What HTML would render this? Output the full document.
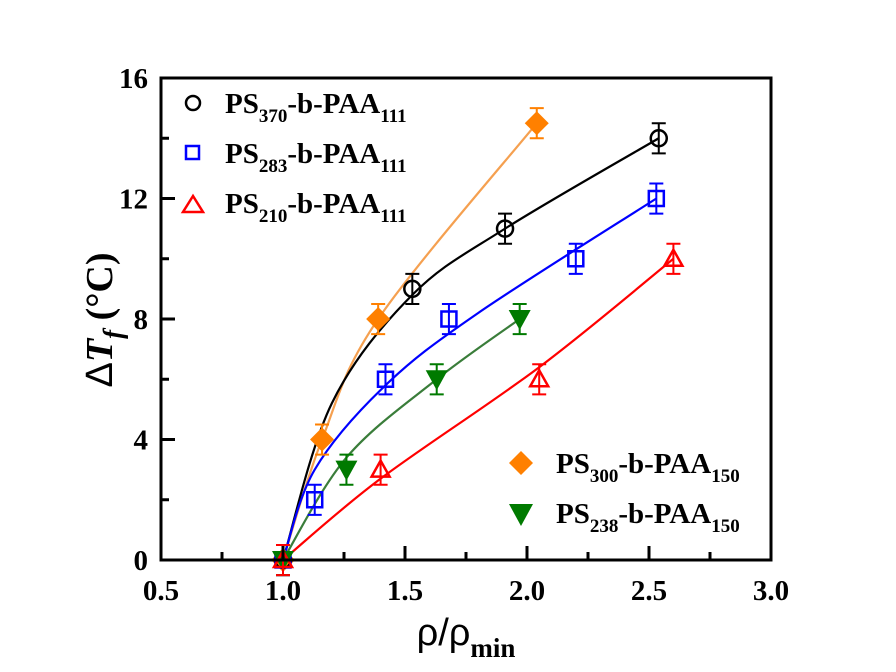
<!DOCTYPE html>
<html><head><meta charset="utf-8"><style>
html,body{margin:0;padding:0;background:#fff;}
svg{display:block;font-family:"Liberation Serif",serif;}
</style></head><body>
<svg id="chart" width="896" height="672" viewBox="0 0 896 672">
<g id="plot"></g>
<g font-weight="bold" font-size="29" font-family="Liberation Serif,serif">
 <circle cx="193" cy="103" r="7" fill="none" stroke="#000" stroke-width="2.5"/>
 <text x="225" y="113">PS<tspan font-size="19" dy="9">370</tspan><tspan dy="-9">-b-PAA</tspan><tspan font-size="19" dy="9">111</tspan></text>
 <rect x="186" y="146" width="13" height="13" fill="none" stroke="#0000ff" stroke-width="2.5"/>
 <text x="225" y="163">PS<tspan font-size="19" dy="9">283</tspan><tspan dy="-9">-b-PAA</tspan><tspan font-size="19" dy="9">111</tspan></text>
 <polygon points="193,196 183,212 203,212" fill="none" stroke="#ff0000" stroke-width="2.5"/>
 <text x="225" y="213">PS<tspan font-size="19" dy="9">210</tspan><tspan dy="-9">-b-PAA</tspan><tspan font-size="19" dy="9">111</tspan></text>
</g>
<g font-weight="bold" font-size="29" font-family="Liberation Serif,serif">
 <polygon points="521,451 533,463 521,475 509,463" fill="#ff8000"/>
 <text x="556" y="473">PS<tspan font-size="19" dy="9">300</tspan><tspan dy="-9">-b-PAA</tspan><tspan font-size="19" dy="9">150</tspan></text>
 <polygon points="509,504 533,504 521,526" fill="#007a00"/>
 <text x="556" y="523">PS<tspan font-size="19" dy="9">238</tspan><tspan dy="-9">-b-PAA</tspan><tspan font-size="19" dy="9">150</tspan></text>
</g>
<text x="466" y="645" text-anchor="middle" font-size="38"><tspan font-family="Liberation Sans,sans-serif">ρ/ρ</tspan><tspan font-family="Liberation Serif,serif" font-weight="bold" font-size="27" dy="12">min</tspan></text>
<text transform="translate(112,320) rotate(-90)" text-anchor="middle" font-size="38" font-weight="bold"><tspan font-family="Liberation Sans,sans-serif" font-weight="normal">Δ</tspan><tspan font-style="italic">T</tspan><tspan font-style="italic" font-size="27" dy="10">f</tspan><tspan dy="-10"> (°C)</tspan></text>
</svg>
<script>
const categoriesX = [0.5,1.0,1.5,2.0,2.5,3.0];
const tickLabelsX = ["0.5","1.0","1.5","2.0","2.5","3.0"];
const tickValuesY = [0,4,8,12,16];
const tickLabelsY = ["0","4","8","12","16"];
const blackX=[1.0,1.53,1.91,2.54], blackY=[0,9,11,14];
const blackFitX=[1.0,1.2,1.53,1.91,2.54], blackFitY=[0,5.2,8.8,11,14];
const orangeX=[1.0,1.16,1.39,2.04], orangeY=[0,4,8,14.5];
const orangeFitX=[1.0,1.16,1.39,2.04], orangeFitY=[0,4,8,14.5];
const blueX=[1.0,1.13,1.42,1.68,2.2,2.53], blueY=[0,2,6,8,10,12];
const blueFitX=[1.0,1.13,1.42,1.8,2.53], blueFitY=[0,3,5.8,8.2,12];
const redX=[1.0,1.4,2.05,2.6], redY=[0,3,6,10];
const redFitX=[1.0,1.4,2.05,2.6], redFitY=[0,2.7,6.4,10];
const greenX=[1.0,1.26,1.63,1.97], greenY=[0,3,6,8];
const greenFitX=[1.0,1.26,1.63,1.97], greenFitY=[0,3.4,6,8];
const errBar=0.5;

const NS="http://www.w3.org/2000/svg";
const X0=161,X1=771,Y0=560,Y1=78;
function sx(v){return X0+(v-0.5)/2.5*(X1-X0);}
function sy(v){return Y0-v/16*(Y0-Y1);}
const g=document.getElementById('plot');
function mk(tag,attrs,parent){const e=document.createElementNS(NS,tag);for(const k in attrs)e.setAttribute(k,attrs[k]);(parent||g).appendChild(e);return e;}

function curve(xs,ys,color,name){
  const p=xs.map((x,i)=>[sx(x),sy(ys[i])]);
  let d="M"+p[0][0]+","+p[0][1];
  for(let i=0;i<p.length-1;i++){
    const p0=p[i-1]||p[i],p1=p[i],p2=p[i+1],p3=p[i+2]||p2;
    const c1=[p1[0]+(p2[0]-p0[0])/6,p1[1]+(p2[1]-p0[1])/6];
    const c2=[p2[0]-(p3[0]-p1[0])/6,p2[1]-(p3[1]-p1[1])/6];
    d+=` C${c1[0]},${c1[1]} ${c2[0]},${c2[1]} ${p2[0]},${p2[1]}`;
  }
  const e=mk('path',{d:d,fill:'none',stroke:color,'stroke-width':2.2});
  
  
}
curve(orangeFitX,orangeFitY,'#f5a050','orange-fit-curve');
curve(blackFitX,blackFitY,'#000','black-fit-curve');
curve(blueFitX,blueFitY,'#0000ff','blue-fit-curve');
curve(greenFitX,greenFitY,'#3a7d3a','green-fit-curve');
curve(redFitX,redFitY,'#ff0000','red-fit-curve');

function marker(type,cx,cy,color,parent){
  const s=9;let e;
  if(type==='circle')e=mk('circle',{cx:cx,cy:cy,r:8,fill:'none',stroke:color,'stroke-width':2.5},parent);
  else if(type==='square')e=mk('rect',{x:cx-7.5,y:cy-7.5,width:15,height:15,fill:'none',stroke:color,'stroke-width':2.5},parent);
  else if(type==='tri')e=mk('polygon',{points:`${cx},${cy-s} ${cx-s},${cy+7} ${cx+s},${cy+7}`,fill:'none',stroke:color,'stroke-width':2.5},parent);
  else if(type==='diamond')e=mk('polygon',{points:`${cx},${cy-12} ${cx+12},${cy} ${cx},${cy+12} ${cx-12},${cy}`,fill:color},parent);
  else e=mk('polygon',{points:`${cx-11},${cy-9} ${cx+11},${cy-9} ${cx},${cy+11}`,fill:color},parent);
  return e;
}
function series(xs,ys,type,color,name){
  xs.forEach((x,i)=>{
    const cx=sx(x),cy=sy(ys[i]);
    const t=sy(ys[i]+errBar),b=sy(ys[i]-errBar);
    mk('path',{d:`M${cx},${t}V${b}M${cx-7},${t}H${cx+7}M${cx-7},${b}H${cx+7}`,stroke:color,'stroke-width':2,fill:'none'});
    const m=marker(type,cx,cy,color);
    
    
  });
}
series(orangeX,orangeY,'diamond','#ff8000','orange');
series(blackX,blackY,'circle','#000','black');
series(blueX,blueY,'square','#0000ff','blue');
series(greenX,greenY,'dtri','#007a00','green');
series(redX,redY,'tri','#ff0000','red');

const box=mk('rect',{x:X0,y:Y1,width:X1-X0,height:Y0-Y1,fill:'none',stroke:'#000','stroke-width':3});


categoriesX.forEach((v,i)=>{
  const x=sx(v);
  mk('line',{x1:x,y1:Y0,x2:x,y2:Y0-14,stroke:'#000','stroke-width':3});
  if(i<categoriesX.length-1){const xm=sx(v+0.25);mk('line',{x1:xm,y1:Y0,x2:xm,y2:Y0-8,stroke:'#000','stroke-width':3});}
  const t=mk('text',{x:x,y:Y0+40,'text-anchor':'middle','font-size':29,'font-weight':'bold'});
  t.textContent=tickLabelsX[i];
  
  
});
tickValuesY.forEach((v,i)=>{
  const y=sy(v);
  mk('line',{x1:X0,y1:y,x2:X0+14,y2:y,stroke:'#000','stroke-width':3});
  if(i<tickValuesY.length-1){const ym=sy(v+2);mk('line',{x1:X0,y1:ym,x2:X0+8,y2:ym,stroke:'#000','stroke-width':3});}
  const t=mk('text',{x:X0-13,y:y+10,'text-anchor':'end','font-size':29,'font-weight':'bold'});
  t.textContent=tickLabelsY[i];
  
  
});
</script>
</body></html>
